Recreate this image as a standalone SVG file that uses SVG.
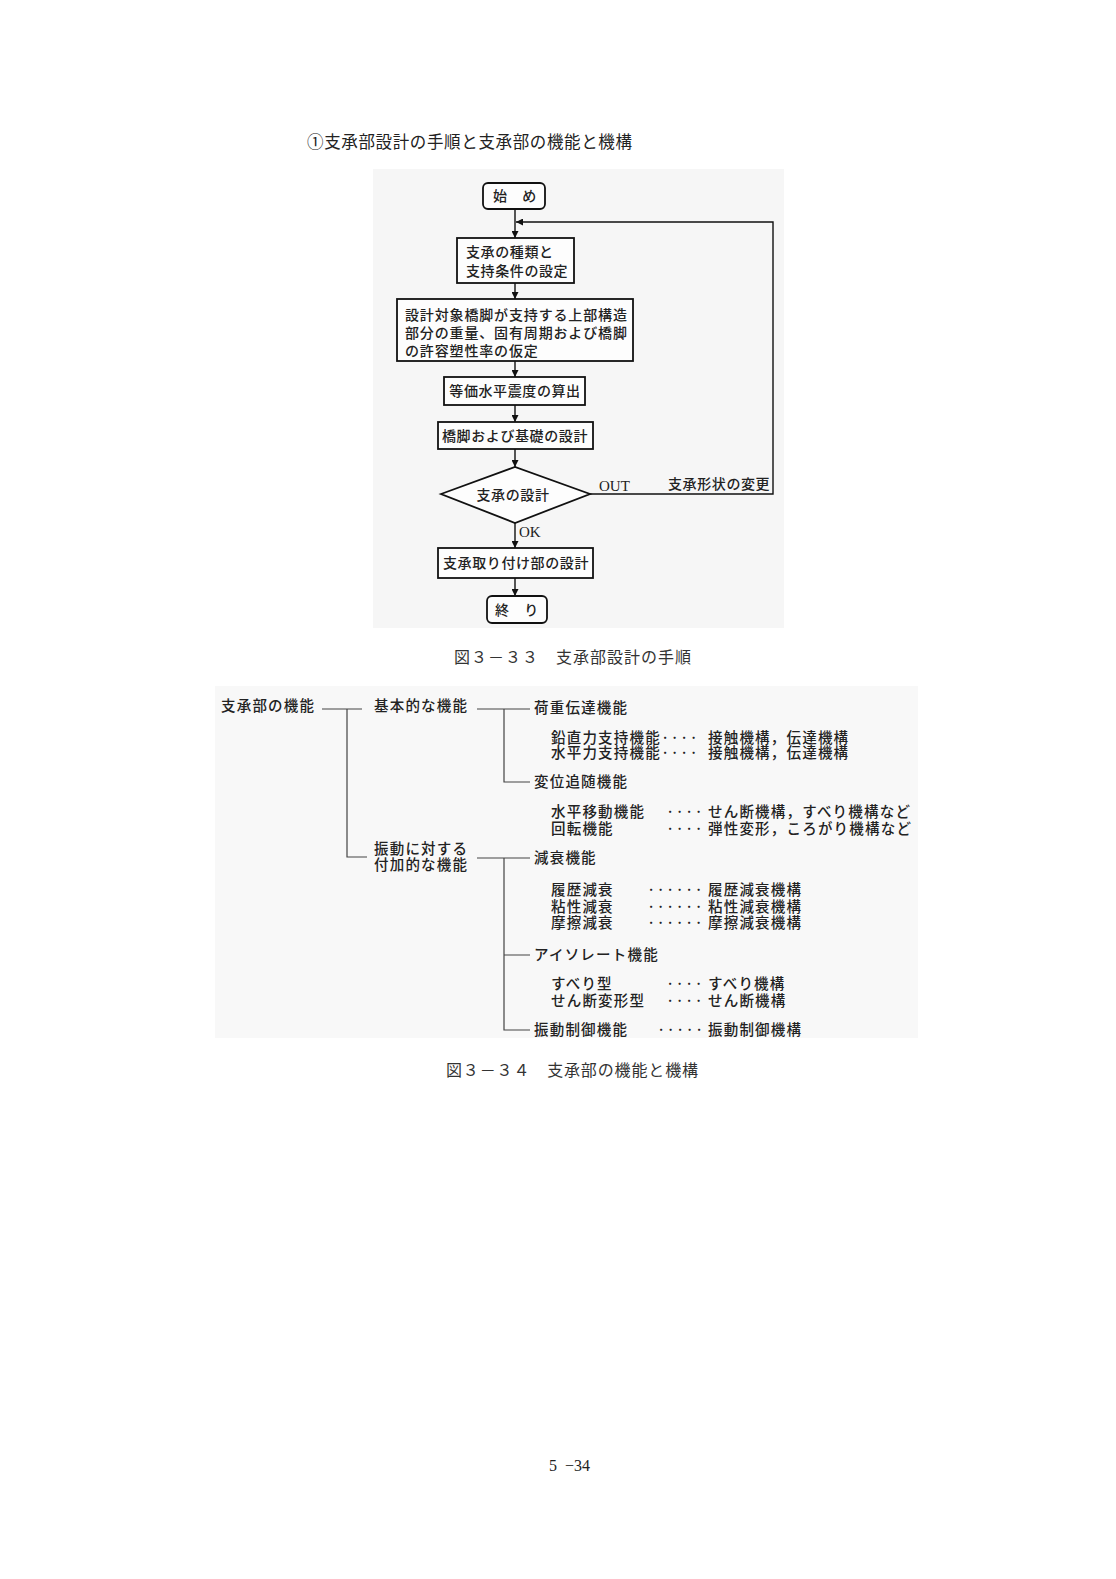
<svg xmlns="http://www.w3.org/2000/svg" width="1116" height="1579" viewBox="0 0 1116 1579">
<defs>
<style>
text{font-family:"Noto Sans CJK JP","Noto Sans",sans-serif;fill:#222;}
.fc{font-size:14px;letter-spacing:0.6px;font-weight:500;}
.tr{font-size:14.5px;letter-spacing:1.2px;font-weight:500;}
.cap{font-size:16px;fill:#333;}
.ser{font-family:"Liberation Serif","Noto Sans CJK JP",serif;}
.box{fill:#fdfdfd;stroke:#111;stroke-width:1.8;}
.ln{fill:none;stroke:#111;stroke-width:1.4;}
.tl{fill:none;stroke:#444;stroke-width:1.2;}
</style>
<marker id="ah" viewBox="0 0 10 10" refX="10" refY="5" markerWidth="7" markerHeight="7" markerUnits="userSpaceOnUse" orient="auto">
<path d="M0,0 L10,5 L0,10 z" fill="#111"/>
</marker>
</defs>
<rect width="1116" height="1579" fill="#ffffff"/>
<rect x="373" y="169" width="411" height="459" fill="#f6f6f6"/>
<rect x="215" y="686" width="703" height="352" fill="#f8f8f8"/>

<text id="title" x="307" y="148" font-size="16.5" textLength="325" lengthAdjust="spacing">①支承部設計の手順と支承部の機能と機構</text>

<g id="connectors">
<line class="ln" x1="515" y1="209" x2="515" y2="238" marker-end="url(#ah)"/>
<line class="ln" x1="515" y1="283" x2="515" y2="299" marker-end="url(#ah)"/>
<line class="ln" x1="515" y1="361" x2="515" y2="377" marker-end="url(#ah)"/>
<line class="ln" x1="515" y1="405" x2="515" y2="422" marker-end="url(#ah)"/>
<line class="ln" x1="515" y1="449" x2="515" y2="467" marker-end="url(#ah)"/>
<line class="ln" x1="515" y1="523" x2="515" y2="548" marker-end="url(#ah)"/>
<line class="ln" x1="515" y1="578" x2="515" y2="596" marker-end="url(#ah)"/>
<polyline class="ln" points="590,494 773,494 773,222 516,222" marker-end="url(#ah)"/>
<path class="tl" d="M322,709 H362 M347,709 V857 H367"/>
<path class="tl" d="M477,709 H530 M504,709 V782 H530"/>
<path class="tl" d="M477,858 H530 M504,858 V1030 H530 M504,955 H530"/>
</g>

<g id="start"><rect class="box" x="483" y="183" width="62" height="26" rx="5"/><text class="fc" x="515" y="201" text-anchor="middle">始　め</text></g>
<g id="n1"><rect class="box" x="457" y="238" width="117" height="45"/>
<text class="fc" x="466" y="257">支承の種類と<tspan x="466" dy="18.5">支持条件の設定</tspan></text></g>
<g id="n2"><rect class="box" x="397" y="299" width="236" height="62"/>
<text class="fc" x="405" y="320" style="letter-spacing:0.85px">設計対象橋脚が支持する上部構造<tspan x="405" dy="18">部分の重量、固有周期および橋脚</tspan><tspan x="405" dy="18">の許容塑性率の仮定</tspan></text></g>
<g id="n3"><rect class="box" x="444" y="377" width="141" height="28"/><text class="fc" x="515" y="396" text-anchor="middle">等価水平震度の算出</text></g>
<g id="n4"><rect class="box" x="438" y="422" width="155" height="27"/><text class="fc" x="515" y="441" text-anchor="middle">橋脚および基礎の設計</text></g>
<g id="d1"><polygon class="box" points="441,494 515,467 590,494 515,523"/><text class="fc" x="513" y="500" text-anchor="middle">支承の設計</text></g>
<text class="ser" x="599" y="491" font-size="15">OUT</text>
<text class="fc" x="668" y="489">支承形状の変更</text>
<text class="ser" x="519" y="537" font-size="15">OK</text>
<g id="n5"><rect class="box" x="438" y="548" width="155" height="30"/><text class="fc" x="516" y="568" text-anchor="middle">支承取り付け部の設計</text></g>
<g id="end"><rect class="box" x="487" y="596" width="60" height="27" rx="5"/><text class="fc" x="517" y="615" text-anchor="middle">終　り</text></g>

<text class="cap" x="454" y="663" textLength="237" lengthAdjust="spacing">図３－３３　支承部設計の手順</text>

<g id="t-root"><text class="tr" x="221" y="711">支承部の機能</text></g>
<g id="t-basic"><text class="tr" x="374" y="711">基本的な機能</text></g>
<g id="t-add"><text class="tr" x="374" y="854">振動に対する<tspan x="374" dy="16">付加的な機能</tspan></text></g>
<g id="t-load"><text class="tr" x="534" y="713">荷重伝達機能</text>
<text class="tr" x="551" y="743">鉛直力支持機能····<tspan x="551" dy="15">水平力支持機能····</tspan></text>
<text class="tr" x="708" y="743">接触機構，伝達機構<tspan x="708" dy="15">接触機構，伝達機構</tspan></text></g>
<g id="t-disp"><text class="tr" x="534" y="787">変位追随機能</text>
<text class="tr" x="551" y="817">水平移動機能<tspan x="551" dy="17">回転機能</tspan></text>
<text class="tr" x="666" y="817">····<tspan x="666" dy="17">····</tspan></text>
<text class="tr" x="708" y="817">せん断機構，すべり機構など<tspan x="708" dy="17">弾性変形，ころがり機構など</tspan></text></g>
<g id="t-damp"><text class="tr" x="534" y="863">減衰機能</text>
<text class="tr" x="551" y="895">履歴減衰<tspan x="551" dy="16.5">粘性減衰</tspan><tspan x="551" dy="16.5">摩擦減衰</tspan></text>
<text class="tr" x="647" y="895">······<tspan x="647" dy="16.5">······</tspan><tspan x="647" dy="16.5">······</tspan></text>
<text class="tr" x="708" y="895">履歴減衰機構<tspan x="708" dy="16.5">粘性減衰機構</tspan><tspan x="708" dy="16.5">摩擦減衰機構</tspan></text></g>
<g id="t-iso"><text class="tr" x="534" y="960">アイソレート機能</text>
<text class="tr" x="551" y="989">すべり型<tspan x="551" dy="17">せん断変形型</tspan></text>
<text class="tr" x="666" y="989">····<tspan x="666" dy="17">····</tspan></text>
<text class="tr" x="708" y="989">すべり機構<tspan x="708" dy="17">せん断機構</tspan></text></g>
<g id="t-ctrl"><text class="tr" x="534" y="1035">振動制御機能</text><text class="tr" x="657" y="1035">·····</text><text class="tr" x="708" y="1035">振動制御機構</text></g>

<text class="cap" x="446" y="1076" textLength="252" lengthAdjust="spacing">図３－３４　支承部の機能と機構</text>
<text class="ser" x="549" y="1471" font-size="16" fill="#333" word-spacing="4">5 −34</text>
</svg>
